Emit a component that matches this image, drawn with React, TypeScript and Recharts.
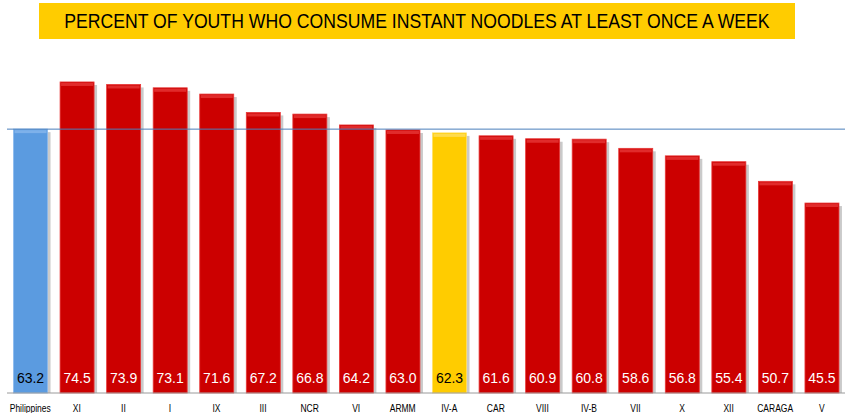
import { BarChart, Bar, XAxis, YAxis, Cell, LabelList, ReferenceLine } from "recharts";

const regions = ["Philippines", "XI", "II", "I", "IX", "III", "NCR", "VI", "ARMM", "IV-A", "CAR", "VIII", "IV-B", "VII", "X", "XII", "CARAGA", "V"];
const percents = [63.2, 74.5, 73.9, 73.1, 71.6, 67.2, 66.8, 64.2, 63.0, 62.3, 61.6, 60.9, 60.8, 58.6, 56.8, 55.4, 50.7, 45.5];
const national = 63.2;

const data = regions.map((r, i) => ({ region: r, pct: percents[i] }));

const colorFor = (r: string) => (r === "Philippines" ? "#5b9be0" : r === "IV-A" ? "#ffcc00" : "#cc0000");
const lightFor = (r: string) => (r === "Philippines" ? "#8ab8ee" : r === "IV-A" ? "#ffe066" : "#e83a3a");

const BevelBar = (props: any) => {
  const { x, y, width, height, payload } = props;
  const c = colorFor(payload.region);
  return (
    <g>
      <rect x={x + 3} y={y + 3} width={width} height={height - 3} fill="#7a7a7a" opacity={0.4} />
      <rect x={x} y={y} width={width} height={height} fill={c} stroke={lightFor(payload.region)} strokeWidth={0.8} />
      <rect x={x + 1} y={y + 1} width={width - 2} height={3} fill={lightFor(payload.region)} opacity={0.75} />
    </g>
  );
};

const ValueLabel = (props: any) => {
  const { x, width, value, index } = props;
  const r = regions[index];
  const dark = r === "Philippines" || r === "IV-A";
  return (
    <text x={x + width / 2} y={383} textAnchor="middle" fontSize={14} fontFamily="Arial, sans-serif" fill={dark ? "#000" : "#fff"}>
      {Number(value).toFixed(1)}
    </text>
  );
};

const RegionTick = (props: any) => {
  const { x, y, payload } = props;
  return (
    <text x={x} y={y + 11} textAnchor="middle" fontSize={10} fontFamily="Arial, sans-serif" fill="#000"
      transform={`translate(${x} 0) scale(0.85 1) translate(${-x} 0)`}>
      {payload.value}
    </text>
  );
};

export default function App() {
  return (
    <div style={{ position: "absolute", left: 0, top: 0, width: 845, height: 413, background: "#fff" }}>
      <div
        style={{
          position: "absolute", left: 39, top: 3, width: 756, height: 36, background: "#ffcc00",
          display: "flex", alignItems: "center", justifyContent: "center", zIndex: 2, overflow: "hidden",
        }}
      >
        <span
          style={{
            display: "inline-block", whiteSpace: "nowrap", fontFamily: "Arial, sans-serif", fontSize: 21,
            color: "#000", transform: "scaleX(0.84)", transformOrigin: "center",
          }}
        >
          PERCENT OF YOUTH WHO CONSUME INSTANT NOODLES AT LEAST ONCE A WEEK
        </span>
      </div>
      <BarChart width={845} height={413} data={data} margin={{ top: 59, right: 0, bottom: 0, left: 7 }} barCategoryGap="14%">
        <XAxis dataKey="region" interval={0} height={20} tickLine={false} axisLine={{ stroke: "#9a9a9a" }} tick={RegionTick} />
        <YAxis hide domain={[0, 80]} />
        <Bar dataKey="pct" shape={BevelBar} isAnimationActive={false}>
          {data.map((d) => (
            <Cell key={d.region} fill={colorFor(d.region)} />
          ))}
          <LabelList dataKey="pct" content={ValueLabel} />
        </Bar>
        <ReferenceLine y={national} stroke="#4a7ebb" strokeWidth={1} />
      </BarChart>
    </div>
  );
}
